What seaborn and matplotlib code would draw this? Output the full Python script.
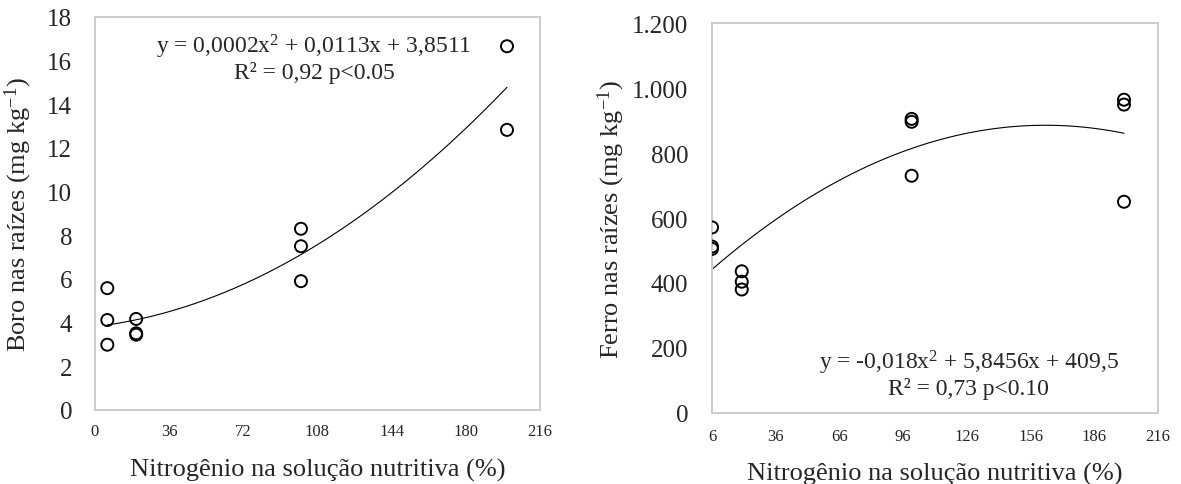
import numpy as np
import pandas as pd
import matplotlib
matplotlib.use("Agg")
import matplotlib.pyplot as plt
import seaborn as sns

# ---- data ----
n_boro = [6, 6, 6, 20, 20, 20, 100, 100, 100, 200, 200]
boro = [5.58, 4.12, 2.99, 4.17, 3.51, 3.45, 8.30, 7.50, 5.90, 16.66, 12.83]

n_ferro = [6, 6, 6, 20, 20, 20, 100, 100, 100, 200, 200, 200]
ferro = [571, 512, 505, 436, 404, 380, 905, 896, 730, 964, 949, 650]

xticks_boro = [0, 36, 72, 108, 144, 180, 216]
yticks_boro = [0, 2, 4, 6, 8, 10, 12, 14, 16, 18]
xticks_ferro = [6, 36, 66, 96, 126, 156, 186, 216]
yticks_ferro = [0, 200, 400, 600, 800, 1000, 1200]
ylabels_ferro = ["0", "200", "400", "600", "800", "1.000", "1.200"]

eq_boro = "y = 0,0002x$^{2}$ + 0,0113x + 3,8511\nR² = 0,92 p<0.05"
eq_ferro = "y = -0,018x$^{2}$ + 5,8456x + 409,5\nR² = 0,73 p<0.10"
xlabel = "Nitrogênio na solução nutritiva (%)"
ylabel_boro = "Boro nas raízes (mg kg$^{-1}$)"
ylabel_ferro = "Ferro nas raízes (mg kg$^{-1}$)"

sns.set_theme(style="white")
plt.rcParams["font.family"] = ["Liberation Serif", "DejaVu Serif"]
plt.rcParams["mathtext.fontset"] = "custom"
plt.rcParams["mathtext.rm"] = "Liberation Serif"
plt.rcParams["mathtext.it"] = "Liberation Serif"
plt.rcParams["mathtext.default"] = "regular"

fig = plt.figure(figsize=(11.81, 4.85), dpi=100)
ax1 = fig.add_axes([0.0804, 0.1526, 0.3768, 0.8103])
ax2 = fig.add_axes([0.6029, 0.1464, 0.3776, 0.8041])

df1 = pd.DataFrame({"x": n_boro, "y": boro})
df2 = pd.DataFrame({"x": n_ferro, "y": ferro})

for ax, df in [(ax1, df1), (ax2, df2)]:
    sns.regplot(data=df, x="x", y="y", order=2, ci=None, scatter=False,
                line_kws=dict(color="black", lw=0.8), ax=ax)
    sns.scatterplot(data=df, x="x", y="y", marker="o", s=75,
                    facecolor="none", edgecolor="black", linewidth=1.4,
                    ax=ax, zorder=3)
    for sp in ax.spines.values():
        sp.set_visible(True)
        sp.set_color("#cccccc")
        sp.set_linewidth(1.4)
    ax.tick_params(axis="both", length=0)
    ax.set_xlabel(xlabel, fontsize=19)

ax1.xaxis.set_label_coords(0.5, -0.122)
ax2.xaxis.set_label_coords(0.5, -0.125)

ax1.set_xlim(0, 216)
ax1.set_ylim(0, 18)
ax1.set_xticks(xticks_boro)
ax1.set_xticklabels([str(v) for v in xticks_boro], fontsize=12)
ax1.set_yticks(yticks_boro)
ax1.set_yticklabels([str(v) for v in yticks_boro], fontsize=18)
ax1.tick_params(axis="y", pad=16.5)
ax1.tick_params(axis="x", pad=9.5)
ax1.set_ylabel(ylabel_boro, fontsize=19)
ax1.yaxis.set_label_coords(-0.137, 0.5)
ax1.text(0.492, 0.897, eq_boro, transform=ax1.transAxes, ha="center",
         va="center", fontsize=17, linespacing=1.05)

ax2.set_xlim(6, 216)
ax2.set_ylim(0, 1200)
ax2.set_xticks(xticks_ferro)
ax2.set_xticklabels([str(v) for v in xticks_ferro], fontsize=12)
ax2.set_yticks(yticks_ferro)
ax2.set_yticklabels(ylabels_ferro, fontsize=18)
ax2.tick_params(axis="y", pad=17)
ax2.tick_params(axis="x", pad=11)
ax2.set_ylabel(ylabel_ferro, fontsize=19)
ax2.yaxis.set_label_coords(-0.19, 0.5)
ax2.text(0.576, 0.101, eq_ferro, transform=ax2.transAxes, ha="center",
         va="center", fontsize=17, linespacing=1.05)

fig.savefig("out.png", dpi=100)
